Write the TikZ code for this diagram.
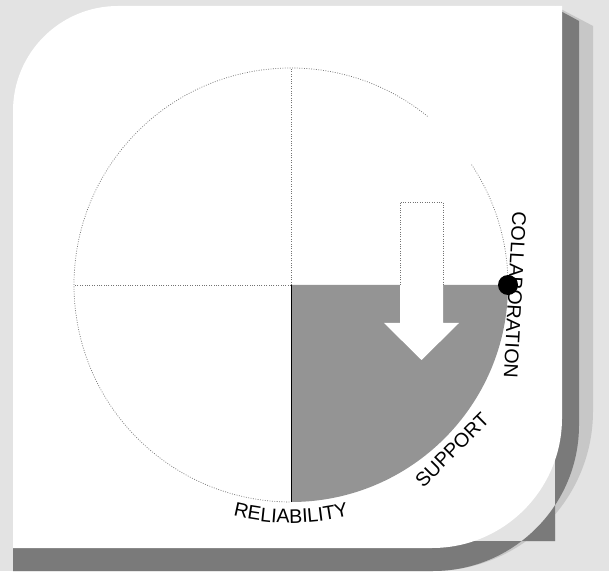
\documentclass[tikz,border=0pt]{standalone}
\usepackage{fontspec}
\setmainfont{Liberation Sans}
\usetikzlibrary{decorations.text}
\newcommand\rimfont{\fontsize{14}{16}\selectfont}
\tikzset{
  guide/.style={line width=0.5pt, color=black!55, dash pattern=on 0.6pt off 1.1pt},
  rimlabel/.style={font=\rimfont, inner sep=0pt}
}
\begin{document}
\begin{tikzpicture}[x=0.025cm, y=0.025cm]
    \useasboundingbox (0,0) rectangle (609,571);
    \fill[color=black!11] (0,0) rectangle (609,571);
    % shadow under the card
    \fill[color=black!22] (13,0) -- (13,30) -- (555,30) -- (555,565) -- (593,545) -- (593,160) arc[start angle=0, end angle=-90, radius=160] -- (433,0) -- cycle;
    \fill[color=black!52] (13,0) -- (13,30) -- (555,30) -- (555,563) -- (579,550) -- (579,146) arc[start angle=0, end angle=-90, radius=146] -- (433,0) -- cycle;
    \fill[color=white] (13,23) -- (13,460) arc[start angle=180, end angle=90, radius=105] -- (562,565) -- (562,153) arc[start angle=0, end angle=-90, radius=130] -- cycle;
    \coordinate (o) at (291,286);
    \fill[color=black!42] (o) -- ++(217,0) arc[start angle=0, end angle=-90, radius=217] -- cycle;
    % the arrow
    \fill[color=white] (400,369) -- (443,369) -- (443,248) -- (459,248) -- (421.5,211) -- (384,248) -- (400,248) -- cycle;
    \draw[guide] (400,286) -- (400,369) -- (443,369) -- (443,286);
    % rim of the circle, broken at the upper right
    \draw[guide] (o) ++(217,0) arc[start angle=0, end angle=34, radius=217];
    \draw[guide] (o) ++(51:217) arc[start angle=51, end angle=270, radius=217];
    \draw[guide] (o) -- ++(-217,0);
    \draw[guide] (o) -- ++(0,217);
    \draw[thin, color=black] (o) -- ++(0,-217);
    \fill[color=black] (508,286) circle[radius=10];
    \node[rimlabel, rotate=-93] (collab) at (515,276) {COLLABORATION};
    \node[rimlabel, rotate=45] (support) at (452,121) {SUPPORT};
    \path[shift={(291,286)}, decorate, decoration={text along path, text align=center, text={|\rimfont|RELIABILITY}}] (240:238) arc[start angle=240, end angle=300, radius=238];
\end{tikzpicture}
\end{document}
